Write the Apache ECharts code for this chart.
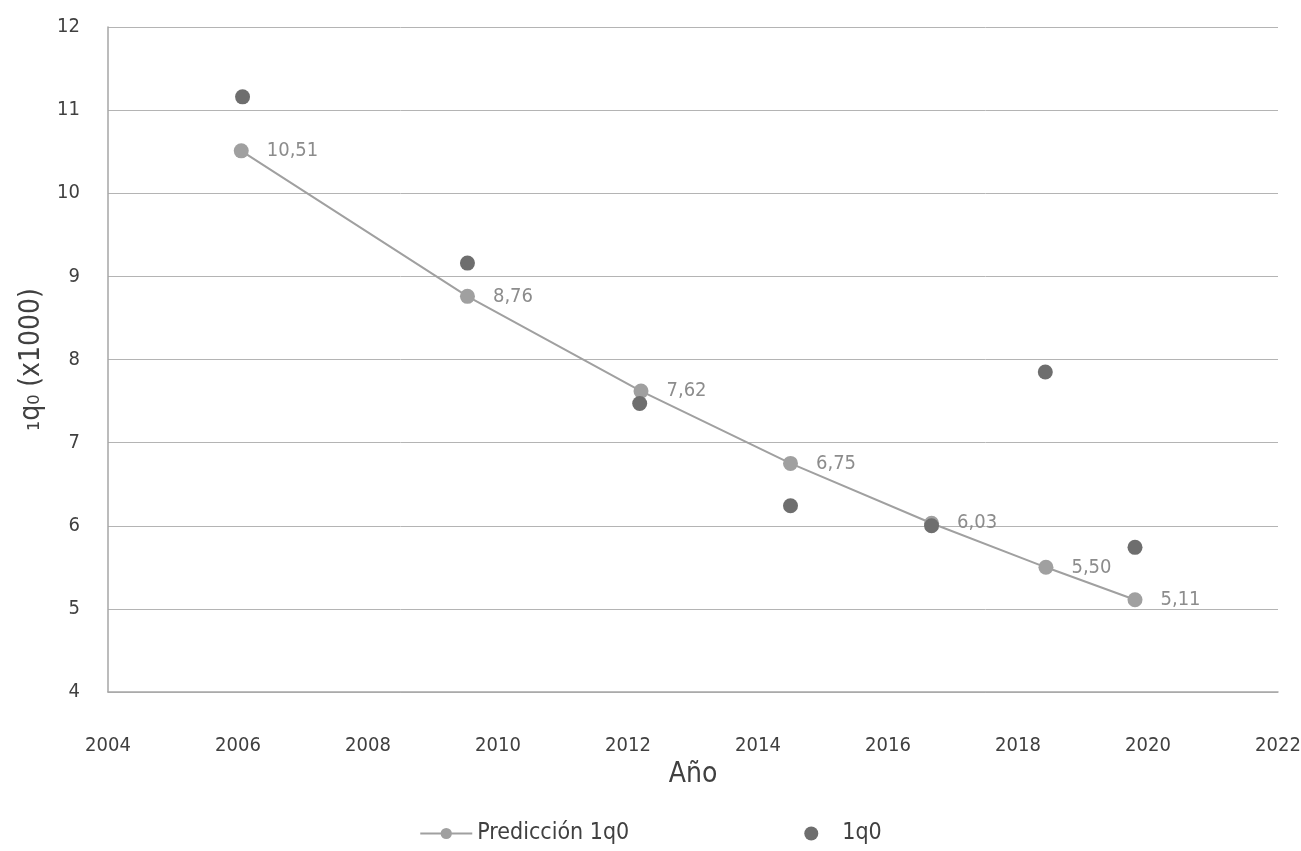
<!DOCTYPE html>
<html><head><meta charset="utf-8">
<script src="https://cdn.jsdelivr.net/npm/echarts@6/dist/echarts.min.js"></script>
<style>html,body{margin:0;padding:0;background:#fff}#c{width:1301px;height:851px}</style>
</head><body><div id="c"></div>
<script>
const predYears = [2006.05, 2009.53, 2012.2, 2014.5, 2016.67, 2018.43, 2019.8];
const predValues = [10.51, 8.76, 7.62, 6.75, 6.03, 5.50, 5.11];
const obsYears = [2006.07, 2009.53, 2012.18, 2014.5, 2016.67, 2018.42, 2019.8];
const obsValues = [11.16, 9.16, 7.47, 6.24, 6.00, 7.85, 5.74];
const xTicks = {min: 2004, max: 2022, interval: 2};
const yTicks = {min: 4, max: 12, interval: 1};

const FONT = '"DejaVu Sans Condensed", "Liberation Sans Narrow", "Roboto", sans-serif';
const chart = echarts.init(document.getElementById('c'));
chart.setOption({
  animation: false,
  textStyle: {fontFamily: FONT},
  grid: {left: 108, right: 23, top: 27, bottom: 159, containLabel: false, outerBoundsMode: 'none'},
  xAxis: {
    type: 'value', min: xTicks.min, max: xTicks.max, interval: xTicks.interval,
    name: 'Año', nameLocation: 'middle', nameGap: 68,
    nameTextStyle: {fontSize: 28, color: '#404040', fontFamily: FONT},
    axisLine: {show: true, lineStyle: {color: '#a6a6a6', width: 1.5}},
    axisTick: {show: false},
    splitLine: {show: false},
    axisLabel: {fontSize: 20, color: '#404040', margin: 44, fontFamily: FONT, formatter: v => String(v)}
  },
  yAxis: {
    type: 'value', min: yTicks.min, max: yTicks.max, interval: yTicks.interval,
    name: '₁q₀ (x1000)', nameLocation: 'middle', nameGap: 60, nameRotate: 90,
    nameTextStyle: {fontSize: 28, color: '#404040', fontFamily: FONT},
    axisLine: {show: true, lineStyle: {color: '#a6a6a6', width: 1.5}},
    axisTick: {show: false},
    splitLine: {show: true, lineStyle: {color: '#b4b4b4', width: 1}},
    axisLabel: {fontSize: 20, color: '#404040', margin: 28, fontFamily: FONT, formatter: v => String(v)}
  },
  legend: {
    bottom: 1, left: 'center', itemGap: 175, itemWidth: 52, itemHeight: 14,
    textStyle: {fontSize: 23, color: '#404040', fontFamily: FONT},
    data: [{name: 'Predicción 1q0'}, {name: '1q0', icon: 'circle', itemStyle: {color: '#6e6e6e', opacity: 1}}]
  },
  series: [
    {
      name: 'Predicción 1q0', type: 'line',
      data: predYears.map((x, i) => [x, predValues[i]]),
      symbol: 'circle', symbolSize: 15,
      lineStyle: {color: '#a0a0a0', width: 2},
      itemStyle: {color: '#a0a0a0', opacity: 1},
      label: {
        show: true, position: 'right', distance: 18, fontSize: 20, color: '#8c8c8c',
        fontFamily: FONT,
        formatter: p => p.value[1].toFixed(2).replace('.', ',')
      },
      z: 2
    },
    {
      name: '1q0', type: 'scatter',
      data: obsYears.map((x, i) => [x, obsValues[i]]),
      symbol: 'circle', symbolSize: 15,
      itemStyle: {color: '#6e6e6e', opacity: 1},
      z: 3
    }
  ]
});
</script></body></html>
